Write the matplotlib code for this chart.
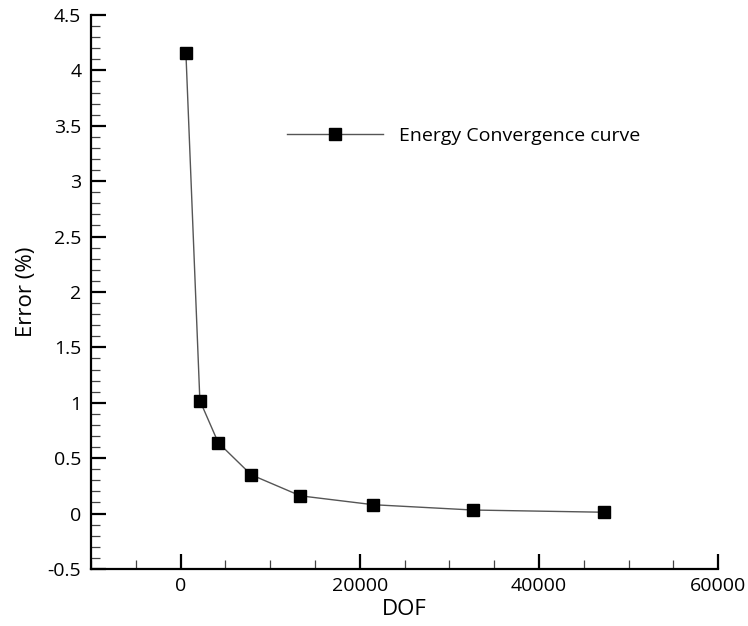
import matplotlib
matplotlib.use("Agg")
import matplotlib.pyplot as plt
from matplotlib.ticker import MultipleLocator

# values
dof = [590, 2150, 4200, 7880, 13380, 21500, 32630, 47300]
error = [4.16, 1.02, 0.64, 0.35, 0.16, 0.08, 0.032, 0.012]

plt.rcParams['font.family'] = ['Open Sans', 'DejaVu Sans']

fig = plt.figure(figsize=(7.48, 6.26), dpi=100)
ax = fig.add_axes([0.1217, 0.0911, 0.8383, 0.885])

ax.plot(dof, error, color="#555555", linewidth=1.0, marker="s",
        markersize=8.5, markerfacecolor="black", markeredgecolor="black",
        label="Energy Convergence curve")

ax.set_xlim(-10000, 60000)
ax.set_ylim(-0.5, 4.5)
ax.xaxis.set_major_locator(MultipleLocator(20000))
ax.xaxis.set_minor_locator(MultipleLocator(5000))
ax.yaxis.set_major_locator(MultipleLocator(0.5))
ax.yaxis.set_minor_locator(MultipleLocator(0.1))
ax.set_yticks([-0.5, 0, 0.5, 1, 1.5, 2, 2.5, 3, 3.5, 4, 4.5])
ax.set_yticklabels(["-0.5", "0", "0.5", "1", "1.5", "2", "2.5", "3", "3.5", "4", "4.5"])
ax.set_xticks([0, 20000, 40000, 60000])

for side in ("top", "right"):
    ax.spines[side].set_visible(False)
for side in ("left", "bottom"):
    ax.spines[side].set_linewidth(1.6)

ax.tick_params(which="major", direction="in", length=11, width=1.6,
               labelsize=14, pad=7, colors="black")
ax.tick_params(which="minor", direction="in", length=6.5, width=0.9,
               color="#444444")
ax.tick_params(axis="x", which="major", pad=6)

ax.set_xlabel("DOF", fontsize=16, labelpad=3)
ax.set_ylabel("Error (%)", fontsize=16, labelpad=8)

ax.legend(loc="center left", bbox_to_anchor=(0.313, 0.782), frameon=False,
          fontsize=14, handlelength=4.9, handletextpad=0.85, borderpad=0,
          borderaxespad=0)

fig.savefig("out.png", dpi=100)
